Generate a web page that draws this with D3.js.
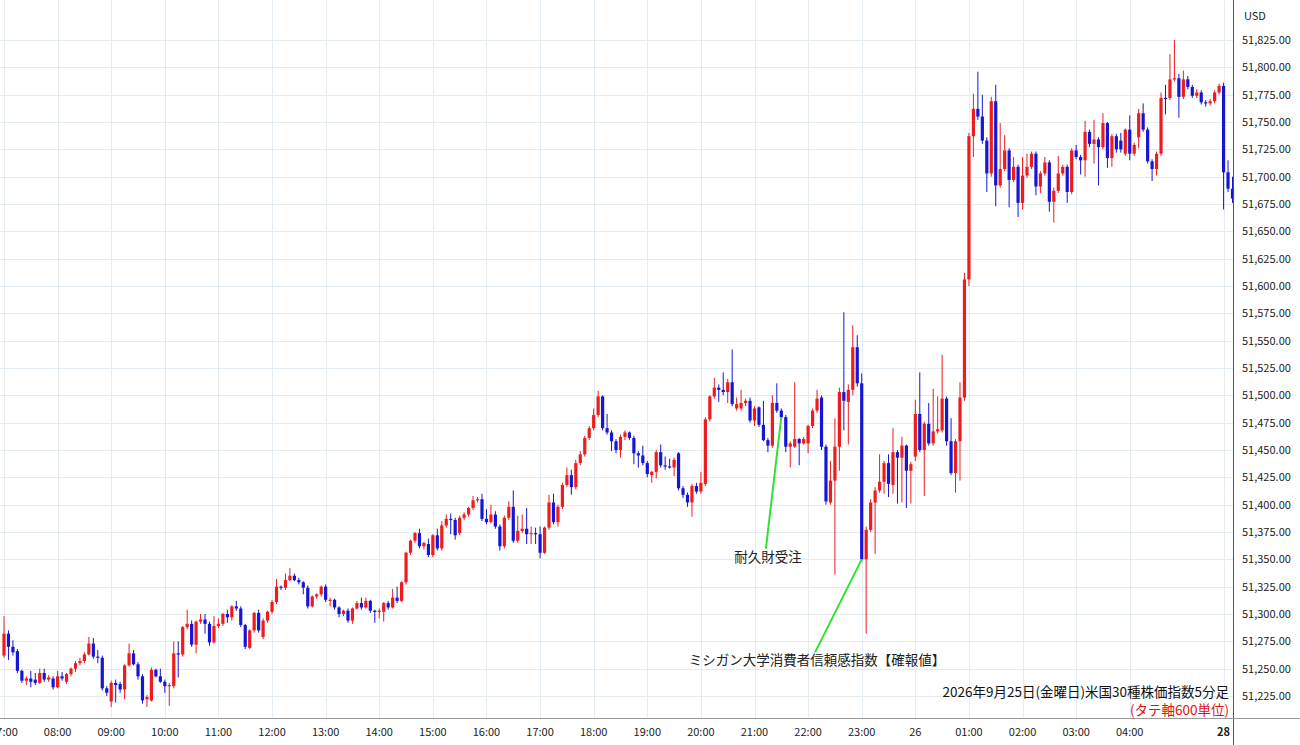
<!DOCTYPE html>
<html lang="ja">
<head>
<meta charset="UTF-8">
<title>米国30種株価指数5分足</title>
<script src="https://d3js.org/d3.v7.min.js"></script>
<style>
  body { margin: 0; background: #fff; }
  text { font-family: "Noto Sans CJK JP", "Noto Sans", sans-serif; }
</style>
</head>
<body>
<svg width="1300" height="745"></svg>
<script>
// 5-minute candles, 2026-09-25 07:00 onwards
var opens = [
51262,51282,51270,51266,51248,51239,51241,51240,51237,51246,
51240,51241,51233,51243,51238,51245,51250,51255,51257,51263,
51273,51261,51260,51232,51220,51237,51236,51231,51253,51264,
51254,51243,51222,51221,51249,51243,51238,51234,51234,51264,
51263,51288,51291,51272,51293,51295,51291,51274,51289,51291,
51300,51297,51307,51305,51290,51269,51285,51301,51279,51294,
51302,51311,51325,51324,51331,51335,51331,51329,51324,51307,
51316,51318,51325,51313,51313,51306,51300,51303,51294,51305,
51310,51306,51312,51303,51302,51302,51310,51306,51315,51312,
51329,51356,51367,51374,51362,51364,51354,51372,51360,51381,
51387,51386,51374,51388,51391,51397,51404,51405,51387,51384,
51391,51380,51362,51388,51398,51367,51376,51378,51373,51374,
51373,51356,51379,51402,51384,51398,51418,51427,51416,51438,
51446,51461,51470,51482,51499,51470,51466,51458,51450,51462,
51466,51461,51447,51445,51438,51427,51430,51448,51436,51435,
51434,51447,51415,51409,51402,51417,51412,51419,51478,51499,
51507,51505,51503,51512,51488,51488,51493,51495,51477,51489,
51473,51459,51454,51493,51486,51480,51453,51453,51460,51456,
51456,51472,51486,51498,51453,51402,51422,51453,51503,51494,
51505,51544,51511,51350,51377,51402,51413,51421,51438,51418,
51448,51443,51454,51431,51444,51483,51450,51474,51456,51467,
51468,51497,51458,51429,51458,51498,51606,51737,51762,51755,
51733,51703,51769,51692,51707,51724,51697,51709,51676,51701,
51709,51721,51691,51703,51713,51677,51687,51703,51709,51686,
51724,51718,51715,51741,51730,51734,51727,51749,51717,51737,
51733,51721,51743,51721,51736,51758,51743,51714,51707,51721,
51772,51772,51789,51790,51773,51789,51782,51774,51777,51768,
51767,51769,51777,51783,51704,51689];
var highs = [
51298,51285,51276,51268,51249,51243,51248,51246,51250,51250,
51244,51243,51248,51247,51246,51251,51257,51260,51265,51279,
51278,51267,51262,51234,51239,51240,51238,51254,51273,51267,
51256,51245,51226,51251,51250,51250,51240,51237,51275,51275,
51289,51304,51294,51294,51300,51300,51293,51298,51296,51301,
51304,51308,51312,51307,51291,51286,51302,51304,51296,51303,
51313,51332,51326,51337,51342,51337,51333,51330,51326,51317,
51319,51326,51327,51315,51314,51307,51304,51305,51306,51312,
51315,51315,51313,51304,51305,51311,51312,51323,51325,51330,
51357,51368,51375,51378,51366,51369,51373,51378,51385,51391,
51392,51388,51390,51393,51398,51408,51407,51410,51396,51400,
51394,51382,51390,51403,51413,51390,51391,51397,51380,51379,
51380,51380,51409,51410,51400,51420,51434,51432,51441,51449,
51463,51472,51488,51504,51500,51483,51468,51460,51464,51468,
51467,51463,51449,51454,51440,51431,51450,51455,51444,51442,
51443,51448,51417,51411,51419,51420,51430,51480,51500,51516,
51510,51521,51515,51542,51498,51505,51497,51498,51490,51490,
51495,51461,51500,51511,51488,51482,51458,51512,51461,51462,
51473,51488,51505,51500,51455,51440,51479,51507,51576,51510,
51564,51555,51520,51380,51405,51416,51446,51440,51446,51470,
51450,51462,51455,51439,51496,51521,51476,51493,51506,51499,
51537,51499,51479,51460,51512,51612,51740,51776,51796,51775,
51736,51773,51784,51749,51738,51726,51718,51711,51718,51721,
51723,51723,51705,51718,51715,51690,51719,51711,51711,51726,
51729,51720,51751,51743,51752,51736,51758,51750,51739,51739,
51740,51744,51756,51731,51762,51767,51745,51716,51723,51777,
51784,51812,51825,51794,51797,51792,51784,51780,51779,51770,
51771,51779,51785,51786,51715,51700];
var lows = [
51260,51258,51262,51246,51237,51235,51233,51235,51236,51238,
51238,51231,51232,51239,51236,51243,51247,51253,51255,51262,
51259,51255,51230,51225,51215,51219,51228,51222,51252,51253,
51240,51218,51215,51220,51242,51237,51228,51216,51232,51242,
51261,51286,51270,51264,51291,51282,51271,51273,51287,51289,
51292,51294,51303,51288,51268,51268,51283,51283,51277,51292,
51300,51309,51322,51322,51330,51330,51327,51318,51305,51306,
51314,51316,51311,51307,51304,51297,51298,51292,51291,51304,
51304,51305,51301,51292,51296,51293,51304,51305,51310,51311,
51327,51354,51365,51360,51359,51352,51352,51358,51358,51379,
51373,51368,51372,51386,51389,51395,51402,51385,51382,51383,
51378,51358,51360,51386,51365,51365,51374,51364,51364,51364,
51351,51355,51377,51382,51380,51396,51416,51409,51414,51436,
51444,51459,51468,51480,51468,51464,51449,51447,51443,51459,
51459,51437,51434,51436,51425,51420,51424,51434,51432,51433,
51426,51413,51406,51398,51389,51410,51410,51417,51476,51497,
51494,51500,51493,51490,51486,51486,51490,51475,51472,51471,
51458,51448,51452,51484,51478,51448,51434,51452,51436,51455,
51447,51470,51484,51450,51400,51400,51336,51431,51468,51455,
51500,51508,51348,51282,51375,51355,51411,51410,51407,51410,
51401,51402,51397,51401,51440,51448,51408,51454,51454,51465,
51466,51454,51427,51411,51422,51495,51600,51718,51752,51730,
51686,51700,51673,51690,51705,51672,51695,51663,51670,51699,
51707,51683,51685,51701,51668,51658,51685,51701,51676,51684,
51716,51702,51700,51727,51712,51692,51725,51708,51709,51722,
51722,51719,51715,51719,51726,51741,51712,51696,51701,51719,
51757,51770,51787,51754,51771,51780,51772,51772,51766,51764,
51765,51767,51775,51670,51686,51676];
var closes = [
51282,51270,51265,51248,51239,51241,51238,51237,51246,51240,
51242,51233,51243,51241,51245,51250,51255,51257,51263,51273,
51261,51260,51232,51228,51237,51235,51231,51253,51264,51254,
51243,51221,51224,51249,51243,51238,51234,51235,51264,51263,
51288,51291,51272,51293,51295,51291,51274,51289,51291,51300,
51297,51307,51305,51290,51270,51285,51301,51285,51294,51302,
51311,51325,51324,51331,51335,51331,51329,51324,51307,51316,
51318,51325,51313,51313,51306,51300,51303,51294,51305,51310,
51306,51312,51303,51302,51303,51310,51306,51315,51312,51329,
51356,51367,51374,51362,51365,51354,51372,51360,51381,51387,
51386,51372,51388,51391,51397,51404,51405,51387,51384,51391,
51380,51362,51388,51398,51367,51376,51378,51373,51374,51373,
51356,51379,51402,51384,51398,51418,51427,51416,51438,51446,
51461,51470,51482,51499,51470,51466,51458,51450,51462,51466,
51461,51447,51445,51438,51428,51430,51448,51436,51435,51434,
51441,51415,51409,51402,51417,51412,51420,51478,51499,51507,
51505,51503,51512,51492,51492,51493,51495,51477,51488,51473,
51459,51454,51493,51486,51480,51453,51456,51460,51456,51460,
51472,51486,51497,51453,51403,51422,51453,51503,51495,51505,
51544,51511,51350,51377,51402,51413,51421,51438,51419,51448,
51443,51454,51431,51437,51483,51450,51474,51456,51467,51469,
51497,51458,51429,51458,51498,51606,51737,51762,51755,51733,
51703,51769,51692,51707,51724,51697,51709,51676,51701,51709,
51721,51691,51703,51713,51677,51687,51703,51709,51686,51724,
51718,51715,51741,51730,51734,51727,51749,51717,51737,51725,
51725,51743,51721,51729,51758,51743,51714,51707,51721,51772,
51771,51789,51790,51773,51789,51782,51774,51777,51768,51767,
51769,51777,51783,51704,51689,51680];

// time axis: candle index of each label
var tickIdx   = [0, 12, 24, 36, 48, 60, 72, 84, 96, 108, 120, 132, 144, 156, 168, 180, 192, 204, 216, 228, 240, 252, 273];
var tickNames = ["07:00","08:00","09:00","10:00","11:00","12:00","13:00","14:00","15:00","16:00","17:00","18:00","19:00","20:00","21:00","22:00","23:00","26","01:00","02:00","03:00","04:00","28"];
var boldTicks = ["28"];

var priceTicks = d3.range(51225, 51826, 25);

// event notes: [label, candle index, price, label index, label price]
var notes = [
  ["耐久財受注", 174, 51480, 171, 51348],
  ["ミシガン大学消費者信頼感指数【確報値】", 192, 51350, 182, 51253]
];

var plotRight = 1233, plotBottom = 718;
var svg = d3.select("svg");

var x = d3.scaleLinear().domain([0, opens.length - 1]).range([4, 1232.5]);
var y = d3.scaleLinear().domain([51225, 51825]).range([696, 40]);

// grid
svg.append("g").selectAll("line").data(priceTicks).enter().append("line")
  .attr("x1", 0).attr("x2", plotRight)
  .attr("y1", function(d){ return Math.round(y(d)) + 0.5; })
  .attr("y2", function(d){ return Math.round(y(d)) + 0.5; })
  .attr("stroke", "#e3ebf3");
svg.append("g").selectAll("line").data(tickIdx).enter().append("line")
  .attr("x1", function(d){ return Math.round(x(d)) + 0.5; })
  .attr("x2", function(d){ return Math.round(x(d)) + 0.5; })
  .attr("y1", 0).attr("y2", plotBottom)
  .attr("stroke", "#e3ebf3");

// candles
var idx = d3.range(opens.length);
var g = svg.append("g");
function col(i){ return closes[i] >= opens[i] ? "#ee1c1c" : "#1515d8"; }
g.selectAll(".wick").data(idx).enter().append("line")
  .attr("x1", function(i){ return x(i); }).attr("x2", function(i){ return x(i); })
  .attr("y1", function(i){ return y(highs[i]); })
  .attr("y2", function(i){ return y(lows[i]); })
  .attr("stroke", col).attr("stroke-width", 1);
g.selectAll(".body").data(idx).enter().append("rect")
  .attr("x", function(i){ return x(i) - 1.6; })
  .attr("width", 3.2)
  .attr("y", function(i){ return y(Math.max(opens[i], closes[i])); })
  .attr("height", function(i){ return Math.max(1.2, Math.abs(y(opens[i]) - y(closes[i]))); })
  .attr("fill", col);

// right axis
svg.append("line").attr("x1", plotRight + 0.5).attr("x2", plotRight + 0.5)
  .attr("y1", 0).attr("y2", 745).attr("stroke", "#555");
svg.append("g").selectAll("text").data(priceTicks).enter().append("text")
  .attr("x", 1242).attr("y", function(d){ return y(d) + 4; })
  .style("font-size", "11px").attr("fill", "#222")
  .text(function(d){ return d3.format(",.2f")(d); });
svg.append("text").attr("x", 1244).attr("y", 20)
  .style("font-size", "11px").attr("fill", "#222").text("USD");

// bottom axis
svg.append("line").attr("x1", 0).attr("x2", 1300)
  .attr("y1", plotBottom + 0.5).attr("y2", plotBottom + 0.5).attr("stroke", "#999");
svg.append("g").selectAll("text").data(tickIdx).enter().append("text")
  .attr("x", function(d){ return x(d); }).attr("y", 736)
  .attr("text-anchor", "middle").style("font-size", "11px").attr("fill", "#222")
  .style("font-weight", function(d, i){ return boldTicks.indexOf(tickNames[i]) >= 0 ? "bold" : "normal"; })
  .text(function(d, i){ return tickNames[i]; });

// notes
notes.forEach(function(n){
  svg.append("line")
    .attr("x1", x(n[1])).attr("y1", y(n[2]))
    .attr("x2", x(n[3]) - 2).attr("y2", y(n[4]) - 13)
    .attr("stroke", "#33e033").attr("stroke-width", 2);
  svg.append("text").attr("x", x(n[3])).attr("y", y(n[4]))
    .attr("text-anchor", "middle").style("font-size", "13.5px").attr("fill", "#222")
    .text(n[0]);
});

// caption
svg.append("text").attr("x", 1229).attr("y", 697).attr("text-anchor", "end")
  .style("font-size", "13.5px").attr("fill", "#111")
  .text("2026年9月25日(金曜日)米国30種株価指数5分足");
svg.append("text").attr("x", 1229).attr("y", 715).attr("text-anchor", "end")
  .style("font-size", "13.5px").attr("fill", "#e01010")
  .text("(タテ軸600単位)");
</script>
</body>
</html>
